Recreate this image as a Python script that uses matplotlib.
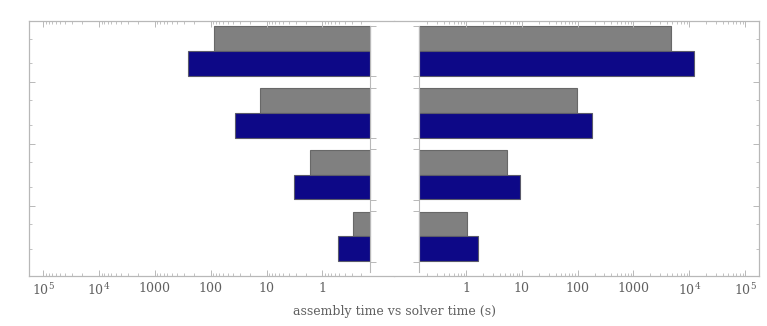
import matplotlib
matplotlib.use("Agg")
import matplotlib.pyplot as plt
from matplotlib.ticker import FixedLocator, FuncFormatter
import numpy as np

# czasy w sekundach, 4 grupy od gory do dolu
assembly_gray = [86.9, 13.2, 1.64, 0.287]
assembly_blue = [253.7, 37.1, 3.26, 0.517]
solver_gray = [4655, 96.8, 5.36, 1.05]
solver_blue = [12050, 180, 9.17, 1.62]
base = 0.14

major_ticks = [1, 10, 100, 1000, 1e4, 1e5]
minor_ticks = [m * 10.0**k for k in range(-1, 5) for m in range(2, 10)]

plt.rcParams["font.family"] = ["DejaVu Serif"]
plt.rcParams["mathtext.fontset"] = "dejavuserif"

frame_col = "#b8b8b8"
text_col = "#606060"
gray_col = "#808080"
blue_col = "#0d0887"


def fmt(v, pos):
    if v >= 1e4:
        return r"$10^{%d}$" % round(np.log10(v))
    return "%d" % v


fig = plt.figure(figsize=(7.67, 3.26), dpi=100)
ax_l = fig.add_axes([29 / 767, 0.1543, 365.3 / 767, 0.7822])
ax_r = fig.add_axes([394.3 / 767, 0.1543, 365 / 767, 0.7822])

y = np.arange(len(assembly_gray))
h = 0.4
edges = np.concatenate([y - 0.407, y + 0.407])

for ax, g, b, side in [(ax_l, assembly_gray, assembly_blue, "left"),
                       (ax_r, solver_gray, solver_blue, "right")]:
    ax.barh(y - h / 2, np.array(g) - base, left=base, height=h,
            color=gray_col, edgecolor="#686868", linewidth=0.8)
    ax.barh(y + h / 2, np.array(b) - base, left=base, height=h,
            color=blue_col, edgecolor="#5a5a6a", linewidth=0.8)
    ax.set_xscale("log")
    ax.set_xlim(0.0515, 1.8e5)
    ax.set_ylim(3.634, -0.49)
    ax.xaxis.set_major_locator(FixedLocator(major_ticks))
    ax.xaxis.set_minor_locator(FixedLocator(minor_ticks))
    ax.xaxis.set_major_formatter(FuncFormatter(fmt))
    ax.xaxis.set_minor_formatter(FuncFormatter(lambda v, p: ""))
    ax.tick_params(axis="x", which="both", direction="in", top=True,
                   color=frame_col, labelcolor=text_col, labelsize=9, pad=4.5)
    ax.tick_params(axis="x", which="major", length=4.5, width=0.7)
    ax.tick_params(axis="x", which="minor", length=2.5, width=0.6)

    # os pionowa przy podstawie slupkow
    ax.axvline(base, ymin=0.0145, ymax=0.9806, color=frame_col, lw=0.8)
    ax.plot([base] * len(edges), edges, ls="none",
            marker=1 if side == "left" else 0, ms=4, mew=0.7, color=frame_col)

    ax.set_yticks([0.5, 1.5, 2.5])
    ax.set_yticks(np.concatenate([y - 0.2, y + 0.2]), minor=True)
    ax.yaxis.set_ticklabels([])
    ax.tick_params(axis="y", which="both", direction="in", color=frame_col,
                   left=(side == "left"), right=(side == "right"))
    ax.tick_params(axis="y", which="major", length=4.5, width=0.7)
    ax.tick_params(axis="y", which="minor", length=2.2, width=0.6)

    for s in ax.spines.values():
        s.set_color(frame_col)
        s.set_linewidth(0.9)

ax_l.invert_xaxis()
ax_l.spines["right"].set_visible(False)
ax_r.spines["left"].set_visible(False)

fig.text(394.3 / 767, 1 - 311 / 326, "assembly time vs solver time (s)",
         ha="center", va="center", color=text_col, fontsize=9)

fig.savefig("out.png", dpi=100)
